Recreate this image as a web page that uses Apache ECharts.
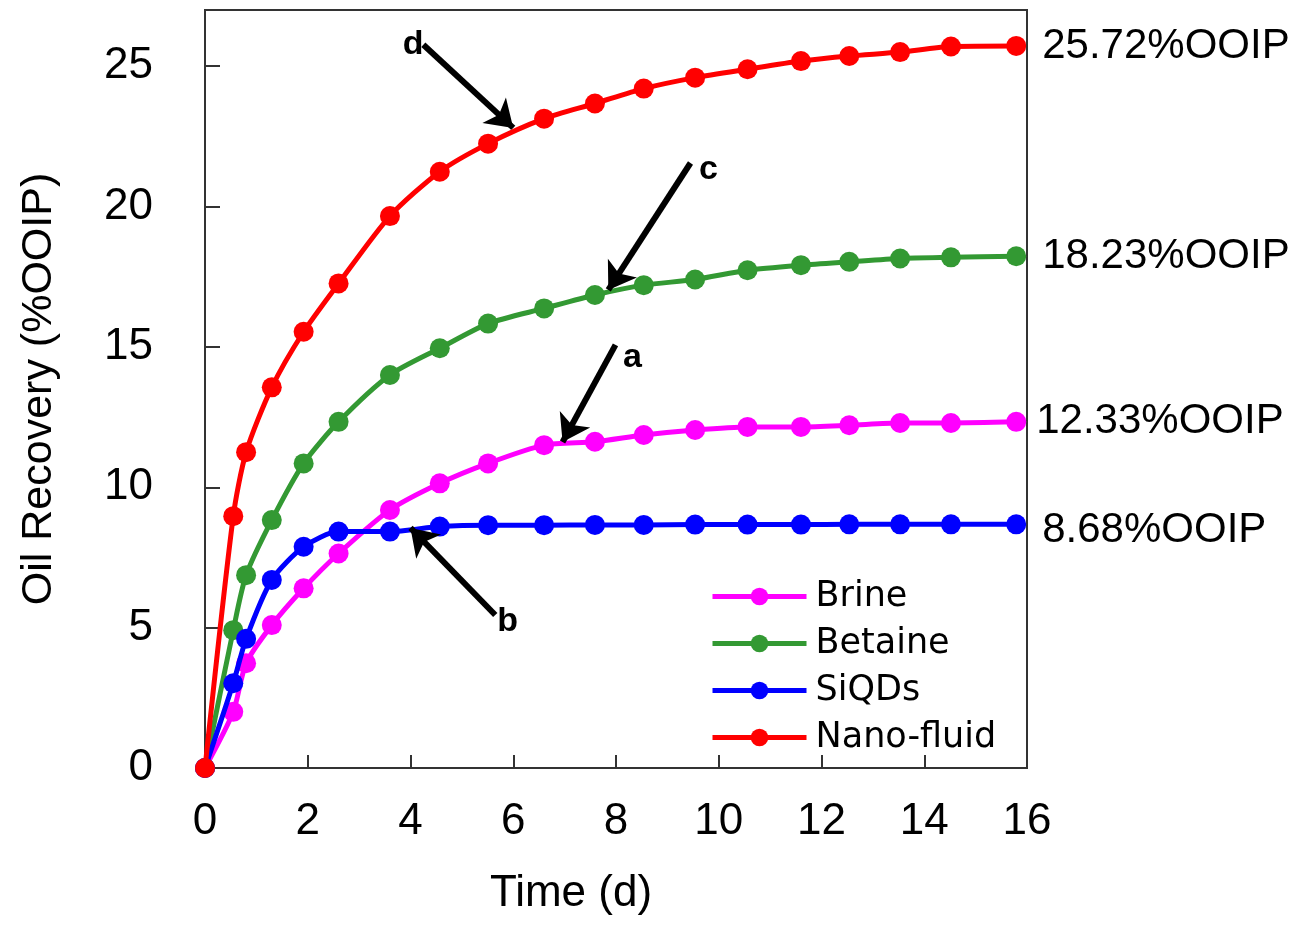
<!DOCTYPE html>
<html><head><meta charset="utf-8">
<script src="https://cdn.jsdelivr.net/npm/echarts@6/dist/echarts.min.js"></script>
<style>html,body{margin:0;padding:0;background:#fff}#c{width:1295px;height:926px}</style>
</head><body><div id="c"></div>
<script>
// ---- data ----
const timeDays = [0, 0.55, 0.8, 1.3, 1.92, 2.6, 3.6, 4.57, 5.51, 6.6, 7.59, 8.54, 9.54, 10.56, 11.6, 12.54, 13.53, 14.52, 15.79];
const brine     = [0, 2.0, 3.73, 5.09, 6.4, 7.64, 9.19, 10.14, 10.85, 11.5, 11.62, 11.86, 12.04, 12.15, 12.15, 12.21, 12.29, 12.29, 12.33];
const betaine   = [0, 4.91, 6.87, 8.83, 10.85, 12.33, 14.0, 14.95, 15.83, 16.37, 16.85, 17.2, 17.4, 17.73, 17.91, 18.03, 18.15, 18.19, 18.23];
const siqds     = [0, 3.02, 4.6, 6.7, 7.88, 8.42, 8.42, 8.6, 8.65, 8.65, 8.66, 8.66, 8.67, 8.67, 8.67, 8.68, 8.68, 8.68, 8.68];
const nanofluid = [0, 8.97, 11.25, 13.56, 15.54, 17.26, 19.66, 21.24, 22.24, 23.13, 23.67, 24.2, 24.59, 24.89, 25.18, 25.36, 25.5, 25.7, 25.72];
const seriesNames = ['Brine', 'Betaine', 'SiQDs', 'Nano-fluid'];
const xTicks = [0, 2, 4, 6, 8, 10, 12, 14, 16];
const yTicks = [0, 5, 10, 15, 20, 25];
// annotation arrows (data units): label, start, end, label anchor
const arrowLetters = ['a', 'b', 'c', 'd'];
const arrowFrom = [[7.99, 15.07], [5.65, 5.45], [9.45, 21.55], [4.25, 25.76]];
const arrowTo   = [[6.96, 11.61], [4.0, 8.55], [7.85, 17.03], [6.0, 22.8]];
const letterAt  = [[8.32, 14.6], [5.89, 5.2], [9.8, 21.3], [4.05, 25.75]];

// ---- styles ----
const colors = ['#ff00ff', '#339933', '#0000ff', '#ff0000'];
const allSeries = [brine, betaine, siqds, nanofluid];
const endDist = [10, 16, 16, 16];
const endOffY = [0, 0, 6, 0];
const FONT = 'Liberation Sans, Arial, sans-serif';

const chart = echarts.init(document.getElementById('c'), null, {renderer: 'canvas'});

const series = allSeries.map((vals, i) => ({
  name: seriesNames[i],
  type: 'line',
  smooth: 0.25,
  symbol: 'circle',
  symbolSize: 20,
  animation: false,
  z: 2 + i,
  lineStyle: {width: 5, color: colors[i]},
  itemStyle: {color: colors[i]},
  emphasis: {disabled: true},
  data: vals.map((v, j) => {
    const item = {value: [timeDays[j], v]};
    if (j === vals.length - 1) {
      item.label = {
        show: true, position: 'right', distance: endDist[i], offset: [0, endOffY[i]],
        color: '#000', fontFamily: FONT, fontSize: 42,
        formatter: p => p.value[1].toFixed(2) + '%OOIP'
      };
    }
    return item;
  })
}));

series[3].markLine = {
  silent: true, animation: false,
  symbol: ['none', 'arrow'], symbolSize: 26,
  lineStyle: {color: '#000', width: 6, type: 'solid'},
  itemStyle: {color: '#000'},
  label: {show: false},
  emphasis: {disabled: true},
  data: arrowLetters.map((l, k) => [{coord: arrowFrom[k]}, {coord: arrowTo[k]}])
};
series[3].markPoint = {
  silent: true, animation: false,
  symbol: 'circle', symbolSize: 1, itemStyle: {color: 'rgba(0,0,0,0)'},
  label: {show: true, position: 'inside', color: '#000', fontFamily: FONT, fontWeight: 'bold', fontSize: 34, formatter: '{b}'},
  data: arrowLetters.map((l, k) => ({name: l, coord: letterAt[k]}))
};

chart.setOption({
  backgroundColor: '#fff',
  animation: false,
  grid: {left: 205, top: 10, right: 268, bottom: 158, show: true, borderColor: '#333', borderWidth: 2, backgroundColor: 'transparent'},
  legend: {
    data: seriesNames, orient: 'vertical', left: 705, top: 574,
    itemWidth: 94, itemHeight: 22, itemGap: 12,
    lineStyle: {width: 5},
    textStyle: {fontFamily: 'DejaVu Sans, sans-serif', fontSize: 35, color: '#000', padding: [0, 0, 0, 4]}
  },
  xAxis: {
    type: 'value', min: 0, max: 16, interval: 2,
    name: 'Time (d)', nameLocation: 'middle', nameGap: 104,
    nameTextStyle: {fontFamily: FONT, fontSize: 44, color: '#000', padding: [0, 90, 0, 0]},
    axisLine: {show: true, lineStyle: {color: '#333', width: 2}},
    axisTick: {show: true, inside: true, length: 13, lineStyle: {color: '#333', width: 2}, customValues: xTicks},
    axisLabel: {fontFamily: FONT, fontSize: 44, color: '#000', margin: 32, customValues: xTicks},
    splitLine: {show: false}
  },
  yAxis: {
    type: 'value', min: 0, max: 27, interval: 5,
    name: 'Oil Recovery (%OOIP)', nameLocation: 'middle', nameGap: 144, nameRotate: 90,
    nameTextStyle: {fontFamily: FONT, fontSize: 43, color: '#000'},
    axisLine: {show: true, lineStyle: {color: '#333', width: 2}},
    axisTick: {show: true, inside: true, length: 15, lineStyle: {color: '#333', width: 2}, customValues: yTicks},
    axisLabel: {fontFamily: FONT, fontSize: 44, color: '#000', margin: 52, customValues: yTicks,
      formatter: v => (yTicks.indexOf(v) >= 0 ? String(v) : '')},
    splitLine: {show: false}
  },
  series: series
});
</script>
</body></html>
